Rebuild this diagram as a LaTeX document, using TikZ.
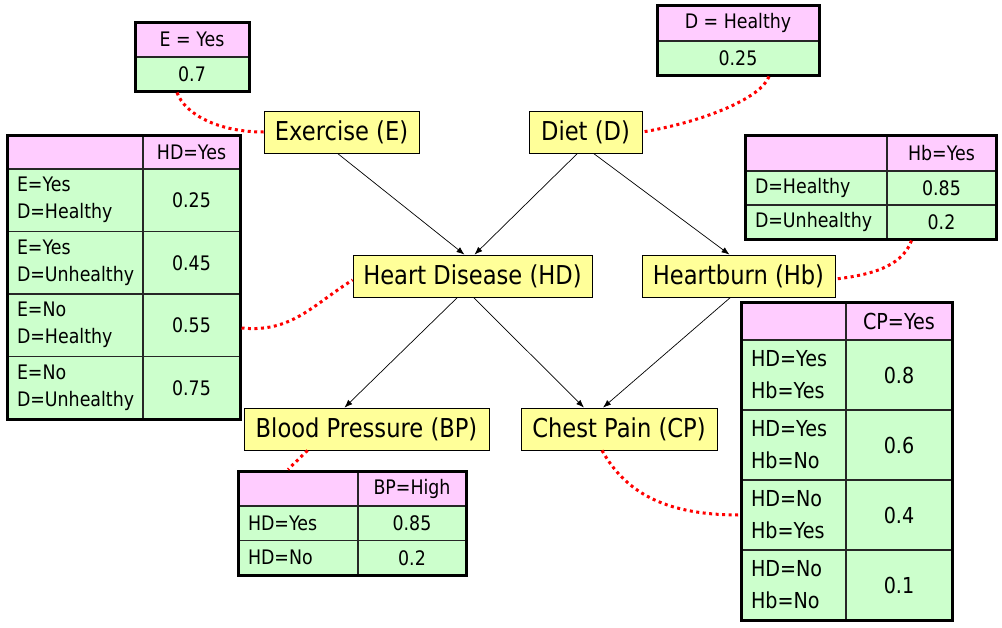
\documentclass[tikz,border=0pt]{standalone}
\usepackage{fontspec}
\setmainfont{DejaVu Sans}[FakeStretch=0.87]
\usepackage{tikz}
\usetikzlibrary{arrows.meta,fit}
\definecolor{pinkcell}{RGB}{255, 204, 255}
\definecolor{greencell}{RGB}{204, 255, 204}
\definecolor{yellowvar}{RGB}{255, 255, 153}
\newcommand{\varfont}{\fontsize{26}{30}\selectfont}
\newcommand{\tblfont}{\fontsize{20}{27}\selectfont}
\newcommand{\cpfont}{\fontsize{22}{32}\selectfont}

\tikzset{
  cell/.style     = {draw=black!85, line width=1.2pt, outer sep=0pt,
                     inner sep=0pt, anchor=north west, font=\tblfont},
  hdr/.style      = {cell, fill=pinkcell},
  prob/.style     = {cell, fill=greencell},
  cond/.style     = {prob, align=left, inner xsep=10pt},
  cptframe/.style = {draw, line width=3pt, inner sep=0pt},
  var/.style      = {draw, line width=0.8pt, fill=yellowvar, font=\varfont,
                     minimum height=42pt, inner sep=0pt},
  edge/.style     = {-{Latex[length=8pt,width=6pt]}, line width=0.7pt},
  link/.style     = {red, line width=3pt, dash pattern=on 3pt off 3.5pt}
}

\begin{document}
\begin{tikzpicture}[x=1pt, y=-1pt]
  \fill[white] (0,0) rectangle (1002,627);
  \useasboundingbox (0,0) rectangle (1002,627);

  % variables
  \node[var, minimum width=155pt] (ex) at (341.5,132) {Exercise (E)};
  \node[var, minimum width=113pt] (di) at (585.5,132) {Diet (D)};
  \node[var, minimum width=239pt] (hd) at (472.5,276) {Heart Disease (HD)};
  \node[var, minimum width=193pt] (hb) at (738.5,276) {Heartburn (Hb)};
  \node[var, minimum width=245pt] (bp) at (366.5,429) {Blood Pressure (BP)};
  \node[var, minimum width=196pt] (cp) at (619,429)   {Chest Pain (CP)};

  \draw[edge] ([xshift=-4pt]ex.south)  -- ([xshift=-8pt]hd.north);
  \draw[edge] ([xshift=-8pt]di.south)  -- ([xshift=2pt]hd.north);
  \draw[edge] ([xshift=8pt]di.south)   -- ([xshift=-9pt]hb.north);
  \draw[edge] ([xshift=-15pt]hd.south) -- ([xshift=-22pt]bp.north);
  \draw[edge] ([xshift=1pt]hd.south)   -- ([xshift=-35pt]cp.north);
  \draw[edge] ([xshift=-8pt]hb.south)  -- ([xshift=-16pt]cp.north);

  % P(E)
  \node[hdr, minimum width=114pt, minimum height=35pt] (eH) at (135,22) {E = Yes};
  \node[prob, minimum width=114pt, minimum height=34pt] (eP) at (135,57) {0.7};
  \node[cptframe, fit=(eH)(eP)] (tE) {};

  % P(D)
  \node[hdr, minimum width=162pt, minimum height=36pt] (dH) at (657,5) {D = Healthy};
  \node[prob, minimum width=162pt, minimum height=34pt] (dP) at (657,41) {0.25};
  \node[cptframe, fit=(dH)(dP)] (tD) {};

  % P(HD | E, D)
  \node[hdr, minimum width=136pt, minimum height=34pt] (hdH0) at (7,135) {};
  \node[hdr, minimum width=97pt, minimum height=34pt] (hdH1) at (143,135) {HD=Yes};
  \foreach \cnd/\val [count=\i] in {{E=Yes\\D=Healthy}/0.25, {E=Yes\\D=Unhealthy}/0.45,
                                    {E=No\\D=Healthy}/0.55, {E=No\\D=Unhealthy}/0.75}{
    \node[cond, text width=116pt, minimum height=62.5pt] (hdC\i) at (7,{169+62.5*(\i-1)}) {\cnd};
    \node[prob, minimum width=97pt, minimum height=62.5pt] (hdP\i) at (143,{169+62.5*(\i-1)}) {\val};
  }
  \node[cptframe, fit=(hdH0)(hdP4)] (tHD) {};

  % P(Hb | D)
  \node[hdr, minimum width=142pt, minimum height=36pt] (hbH0) at (745,135) {};
  \node[hdr, minimum width=109pt, minimum height=36pt] (hbH1) at (887,135) {Hb=Yes};
  \foreach \cnd/\val [count=\i] in {D=Healthy/0.85, D=Unhealthy/0.2}{
    \node[cond, text width=122pt, minimum height=34pt] (hbC\i) at (745,{171+34*(\i-1)}) {\cnd};
    \node[prob, minimum width=109pt, minimum height=34pt] (hbP\i) at (887,{171+34*(\i-1)}) {\val};
  }
  \node[cptframe, fit=(hbH0)(hbP2)] (tHb) {};

  % P(BP | HD)
  \node[hdr, minimum width=120pt, minimum height=35pt] (bpH0) at (238,471) {};
  \node[hdr, minimum width=108pt, minimum height=35pt] (bpH1) at (358,471) {BP=High};
  \foreach \cnd/\val [count=\i] in {HD=Yes/0.85, HD=No/0.2}{
    \node[cond, text width=100pt, minimum height=34.5pt] (bpC\i) at (238,{506+34.5*(\i-1)}) {\cnd};
    \node[prob, minimum width=108pt, minimum height=34.5pt] (bpP\i) at (358,{506+34.5*(\i-1)}) {\val};
  }
  \node[cptframe, fit=(bpH0)(bpP2)] (tBP) {};

  % P(CP | HD, Hb)
  \node[hdr, minimum width=105pt, minimum height=38pt] (cpH0) at (741,302) {};
  \node[hdr, minimum width=106pt, minimum height=38pt, font=\cpfont] (cpH1) at (846,302) {CP=Yes};
  \foreach \cnd/\val [count=\i] in {{HD=Yes\\Hb=Yes}/0.8, {HD=Yes\\Hb=No}/0.6,
                                    {HD=No\\Hb=Yes}/0.4, {HD=No\\Hb=No}/0.1}{
    \node[cond, text width=85pt, minimum height=70pt, font=\cpfont] (cpC\i) at (741,{340+70*(\i-1)}) {\cnd};
    \node[prob, minimum width=106pt, minimum height=70pt, font=\cpfont] (cpP\i) at (846,{340+70*(\i-1)}) {\val};
  }
  \node[cptframe, fit=(cpH0)(cpP4)] (tCP) {};

  % tables to variables
  \draw[link] ([xshift=-15pt]tE.south) .. controls +(8,22) and +(-45,0) .. (ex.west);
  \draw[link] ([xshift=31pt]tD.south) .. controls +(-8,22) and +(60,-10) .. (di.east);
  \draw[link] ([yshift=-51pt]tHD.east) .. controls +(50,5) and +(-40,25) .. ([yshift=-4pt]hd.west);
  \draw[link] ([xshift=41pt]tHb.south) .. controls +(-8,22) and +(45,-5) .. ([yshift=-3pt]hb.east);
  \draw[link] ([xshift=-59pt]bp.south) -- ([xshift=-64pt]tBP.north);
  \draw[link] ([xshift=-17pt]cp.south) .. controls +(25,45) and +(-70,0) .. ([yshift=-54pt]tCP.west);
\end{tikzpicture}
\end{document}
